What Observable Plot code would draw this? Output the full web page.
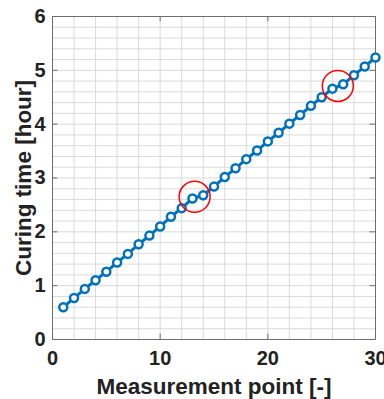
<!DOCTYPE html>
<html>
<head>
<meta charset="utf-8">
<script src="https://cdn.jsdelivr.net/npm/d3@7"></script>
<script src="https://cdn.jsdelivr.net/npm/@observablehq/plot@0.6"></script>
<style>
  html, body { margin: 0; padding: 0; background: #fff; }
  #chart svg { display: block; }
</style>
</head>
<body>
<div id="chart"></div>
<script>
const measurementPoints = [1,2,3,4,5,6,7,8,9,10,11,12,13,14,15,16,17,18,19,20,21,22,23,24,25,26,27,28,29,30];
const curingTime = [0.60,0.77,0.94,1.10,1.26,1.43,1.59,1.77,1.93,2.10,2.28,2.44,2.62,2.68,2.84,3.02,3.18,3.35,3.51,3.68,3.84,4.01,4.17,4.34,4.50,4.66,4.74,4.91,5.07,5.24];
const highlightX = [13.2, 26.5];
const highlightY = [2.65, 4.71];
const xTicks = [0, 10, 20, 30];
const yTicks = [0, 1, 2, 3, 4, 5, 6];
const xLabel = "Measurement point [-]";
const yLabel = "Curing time [hour]";

const data = measurementPoints.map((x, i) => ({x, y: curingTime[i]}));
const highlights = highlightX.map((x, i) => ({x, y: highlightY[i]}));

const blue = "#0072BD";
const frameColor = "#6e6e6e";
const font = "'Liberation Sans', Arial, sans-serif";

const chart = Plot.plot({
  width: 384,
  height: 399,
  marginLeft: 52,
  marginRight: 9,
  marginTop: 16,
  marginBottom: 60,
  style: {fontFamily: font, background: "#fff"},
  x: {domain: [0, 30]},
  y: {domain: [0, 6]},
  marks: [
    Plot.gridX(d3.range(0, 31, 2), {stroke: "#dadada", strokeOpacity: 1}),
    Plot.gridY(d3.range(0, 6.001, 0.2), {stroke: "#dadada", strokeOpacity: 1}),
    Plot.frame({stroke: frameColor}),
    Plot.ruleX(xTicks, {y1: 0, y2: 0.1, stroke: frameColor}),
    Plot.ruleX(xTicks, {y1: 6, y2: 5.9, stroke: frameColor}),
    Plot.ruleY(yTicks, {x1: 0, x2: 0.5, stroke: frameColor}),
    Plot.ruleY(yTicks, {x1: 30, x2: 29.5, stroke: frameColor}),
    Plot.axisX({ticks: xTicks, tickFormat: d3.format("d"), tickSize: 0, tickPadding: 11, label: null, fontSize: 20, fontWeight: "bold", fill: "#222"}),
    Plot.axisY({ticks: yTicks, tickFormat: d3.format("d"), tickSize: 0, tickPadding: 7, label: null, fontSize: 20, fontWeight: "bold", fill: "#222"}),
    Plot.text([xLabel], {frameAnchor: "bottom", textAnchor: "middle", dy: 54, fontSize: 22.5, fontWeight: "bold", fill: "#222"}),
    Plot.text([yLabel], {frameAnchor: "left", textAnchor: "middle", dx: -29, rotate: -90, fontSize: 22.5, fontWeight: "bold", fill: "#222"}),
    Plot.line(data, {x: "x", y: "y", stroke: blue, strokeWidth: 3}),
    Plot.dot(data, {x: "x", y: "y", r: 4, stroke: blue, strokeWidth: 2.5, fill: "white"}),
    Plot.dot(highlights, {x: "x", y: "y", r: 15.5, stroke: "red", strokeWidth: 1.5, fill: "none"})
  ]
});
document.getElementById("chart").appendChild(chart);
</script>
</body>
</html>
